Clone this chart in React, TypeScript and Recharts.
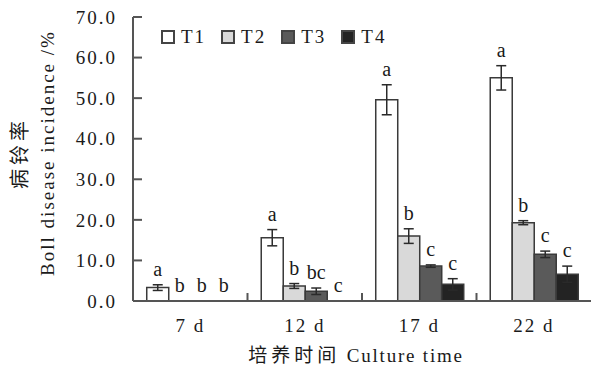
import React from "react";
import {
  Bar,
  BarChart,
  ErrorBar,
  LabelList,
  Legend,
  XAxis,
  YAxis,
} from "recharts";

// 培养天数
const categories = ["7 d", "12 d", "17 d", "22 d"];

// 病铃率 (%) 与误差
const t1 = [3.3, 15.6, 49.6, 55.0];
const t1Err = [0.7, 2.0, 3.7, 3.0];
const t2 = [0, 3.7, 16.0, 19.3];
const t2Err = [0, 0.6, 1.8, 0.5];
const t3 = [0, 2.4, 8.6, 11.5];
const t3Err = [0, 0.8, 0.3, 0.8];
const t4 = [0, 0, 4.1, 6.6];
const t4Err = [0, 0, 1.4, 2.0];

// 显著性字母
const t1Letters = ["a", "a", "a", "a"];
const t2Letters = ["b", "b", "b", "b"];
const t3Letters = ["b", "bc", "c", "c"];
const t4Letters = ["b", "c", "c", "c"];

const yTicks = [0, 10, 20, 30, 40, 50, 60, 70];

const chartData = categories.map((name, i) => ({
  name,
  T1: t1[i],
  T1err: t1Err[i],
  T1letter: t1Letters[i],
  T2: t2[i],
  T2err: t2Err[i],
  T2letter: t2Letters[i],
  T3: t3[i],
  T3err: t3Err[i],
  T3letter: t3Letters[i],
  T4: t4[i],
  T4err: t4Err[i],
  T4letter: t4Letters[i],
}));

const FONT = "Liberation Serif";
const CJK = "Noto Sans CJK SC";
const TEXT = "#1a1a1a";
const AXIS = "#555";

const series = [
  { key: "T1", fill: "#ffffff" },
  { key: "T2", fill: "#d9d9d9" },
  { key: "T3", fill: "#5a5a5a" },
  { key: "T4", fill: "#232323" },
];

// 字母放在误差线上方
const letterLabel = (key: string) => (props: any) => {
  const row = props.value;
  if (!row || typeof row !== "object") return null;
  const vb = props.viewBox || {};
  const x = vb.x ?? props.x;
  const y = vb.y ?? props.y;
  const w = vb.width ?? props.width;
  const hRaw = vb.height ?? props.height ?? 0;
  if (x == null || y == null) return null;
  const v = row[key];
  const top = Math.min(y, y + hRaw);
  const errPx = v > 0 ? (row[key + "err"] * Math.abs(hRaw)) / v : 0;
  return (
    <text
      x={x + w / 2}
      y={top - errPx - 9}
      textAnchor="middle"
      fontFamily={FONT}
      fontSize={20}
      fill={TEXT}
    >
      {row[key + "letter"]}
    </text>
  );
};

// 类别标签 + 类别之间的内向刻度
const XTick = (props: any) => {
  const { x, y, payload, index } = props;
  const half = payload?.offset ?? 0;
  return (
    <g>
      {index > 0 && half > 0 && (
        <line
          x1={x - half}
          y1={y}
          x2={x - half}
          y2={y - 8}
          stroke={AXIS}
          strokeWidth={2}
        />
      )}
      <text
        x={x}
        y={y + 31}
        textAnchor="middle"
        fontFamily={FONT}
        fontSize={19}
        letterSpacing={2}
        fill={TEXT}
      >
        {payload.value}
      </text>
    </g>
  );
};

const LegendContent = ({ payload }: any) => (
  <div style={{ display: "flex", fontFamily: FONT, fontSize: 19, color: TEXT }}>
    {(payload || []).map((entry: any) => (
      <div
        key={entry.value}
        style={{ display: "flex", alignItems: "center", marginRight: 15 }}
      >
        <span
          style={{
            width: 10,
            height: 10,
            border: "2px solid #444",
            background: entry.color,
            marginRight: 6,
          }}
        />
        <span style={{ letterSpacing: 2 }}>{entry.value}</span>
      </div>
    ))}
  </div>
);

const YTitle = () => (
  <g>
    <text
      transform="translate(27,153) rotate(-90)"
      textAnchor="middle"
      fontFamily={CJK}
      fontSize={20}
      letterSpacing={4}
      fill={TEXT}
    >
      病铃率
    </text>
    <text
      transform="translate(54,153) rotate(-90)"
      textAnchor="middle"
      fontFamily={FONT}
      fontSize={19}
      letterSpacing={2}
      fill={TEXT}
    >
      Boll disease incidence /%
    </text>
  </g>
);

const XTitle = () => (
  <text x={356} y={362} textAnchor="middle" fontSize={19} fill={TEXT}>
    <tspan fontFamily={CJK} fontSize={19} letterSpacing={4}>
      培养时间
    </tspan>
    <tspan fontFamily={FONT} letterSpacing={1.8}>
      {" Culture time"}
    </tspan>
  </text>
);

export default function App() {
  return (
    <div style={{ position: "absolute", left: 0, top: 0, background: "#fff" }}>
      <BarChart
        width={591}
        height={372}
        data={chartData}
        margin={{ top: 17, right: 0, bottom: 0, left: 0 }}
        barCategoryGap="12%"
        barGap={0}
      >
        <XAxis
          dataKey="name"
          height={71}
          interval={0}
          tickLine={false}
          tickSize={0}
          tickMargin={0}
          axisLine={{ stroke: AXIS, strokeWidth: 2 }}
          tick={<XTick />}
          label={<XTitle />}
        />
        <YAxis
          width={133}
          domain={[0, 70]}
          ticks={yTicks}
          interval={0}
          tickFormatter={(v: number) => v.toFixed(1)}
          tickSize={-9}
          tickMargin={25}
          axisLine={{ stroke: AXIS, strokeWidth: 2 }}
          tickLine={{ stroke: AXIS, strokeWidth: 2 }}
          tick={{ fontFamily: FONT, fontSize: 19, fill: TEXT, letterSpacing: 2 }}
          label={<YTitle />}
        />
        <Legend
          layout="horizontal"
          verticalAlign="middle"
          align="center"
          content={<LegendContent />}
          wrapperStyle={{ top: 26, left: 161, width: "auto", height: "auto" }}
        />
        {series.map((s) => (
          <Bar
            key={s.key}
            dataKey={s.key}
            fill={s.fill}
            stroke="#3a3a3a"
            strokeWidth={1.5}
            minPointSize={0.01}
            isAnimationActive={false}
          >
            <ErrorBar
              dataKey={`${s.key}err`}
              width={5}
              stroke="#2a2a2a"
              strokeWidth={1.5}
              isAnimationActive={false}
            />
            <LabelList dataKey={(d: any) => d} content={letterLabel(s.key)} />
          </Bar>
        ))}
      </BarChart>
    </div>
  );
}
